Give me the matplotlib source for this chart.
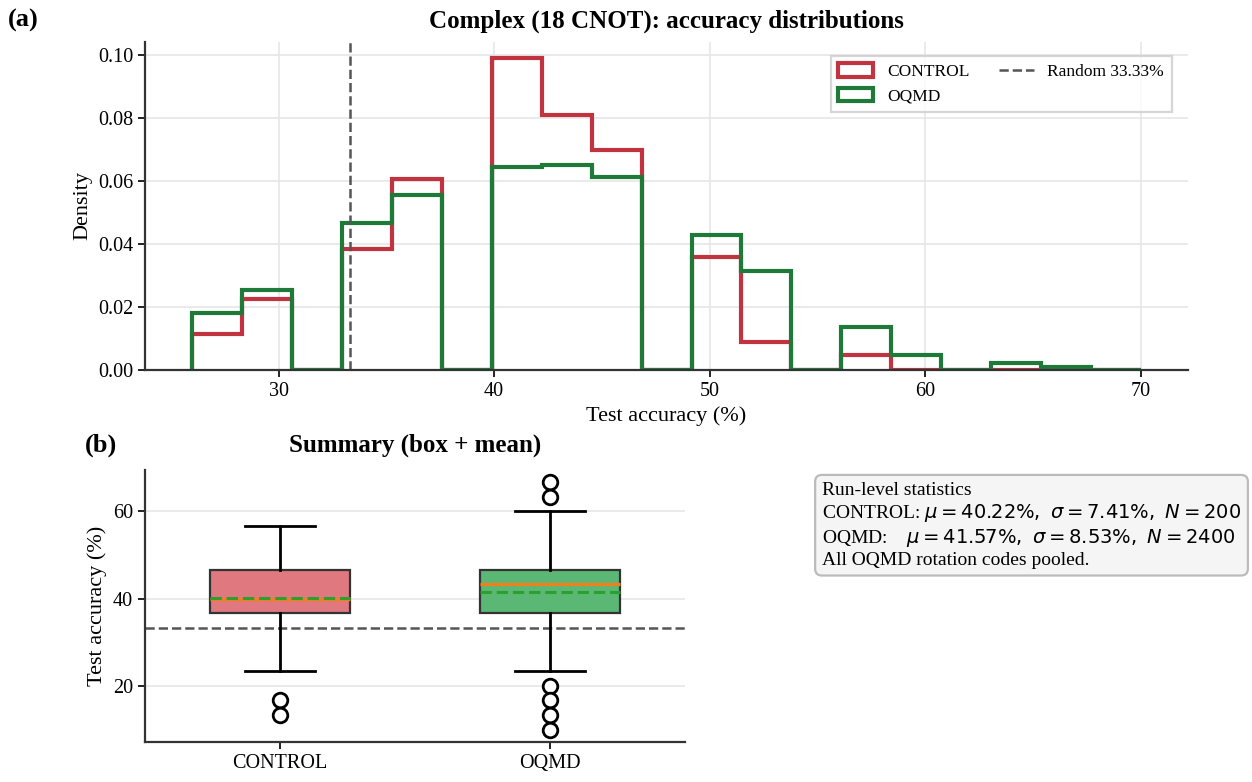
import matplotlib
matplotlib.use("Agg")
import matplotlib.pyplot as plt
import numpy as np

plt.rcParams['font.family'] = ['Liberation Serif', 'DejaVu Serif']
plt.rcParams['mathtext.fontset'] = 'dejavusans'

red = '#c1343f'
green = '#1f7a3a'
grey = '#555555'

# histogram bins (test accuracy, %) and per-bin density
bin_edges = [26.0, 28.32, 30.63, 32.95, 35.26, 37.58, 39.89, 42.21, 44.53, 46.84,
             49.16, 51.47, 53.79, 56.11, 58.42, 60.74, 63.05, 65.37, 67.68, 70.0]
control_density = [0.0113, 0.0224, 0.0, 0.0383, 0.0606, 0.0, 0.0992, 0.0810, 0.0699, 0.0,
                   0.0359, 0.0088, 0.0, 0.0046, 0.0, 0.0, 0.0, 0.0, 0.0]
oqmd_density = [0.0181, 0.0253, 0.0, 0.0466, 0.0555, 0.0, 0.0644, 0.0650, 0.0614, 0.0,
                0.0428, 0.0315, 0.0, 0.0138, 0.0049, 0.0, 0.0023, 0.0011, 0.0]

random_acc = 100 / 3

# box summary
groups = ['CONTROL', 'OQMD']
q1 = [36.67, 36.67]
q3 = [46.67, 46.67]
medians = [40.0, 43.33]
means = [40.22, 41.57]
whisker_lo = [23.33, 23.33]
whisker_hi = [56.67, 60.0]
fliers = [[16.67, 13.33], [66.67, 63.33, 20.0, 16.67, 13.33, 10.0]]
sigmas = [7.41, 8.53]
counts = [200, 2400]

fig = plt.figure(figsize=(12.52, 7.82), dpi=100)
ax1 = fig.add_axes([0.1158, 0.5269, 0.8331, 0.4194])
ax2 = fig.add_axes([0.1158, 0.0512, 0.4313, 0.3478])

for ax in (ax1, ax2):
    for s in ('top', 'right'):
        ax.spines[s].set_visible(False)
    for s in ('left', 'bottom'):
        ax.spines[s].set_color('#333333')
        ax.spines[s].set_linewidth(1.6)
    ax.tick_params(labelsize=14.5, length=5, width=1.4, color='#222222')
    ax.set_axisbelow(True)

# (a) histograms
edges = np.array(bin_edges)
ax1.hist(edges[:-1], bins=edges, weights=control_density, histtype='step',
         color=red, linewidth=3.0, label='CONTROL')
ax1.hist(edges[:-1], bins=edges, weights=oqmd_density, histtype='step',
         color=green, linewidth=3.0, label='OQMD')
ax1.axvline(random_acc, color=grey, ls='--', lw=1.8, label='Random 33.33%')
ax1.grid(True, color='#e6e6e6', lw=1.2)
ax1.set_yticks([0, 0.02, 0.04, 0.06, 0.08, 0.10])
ax1.set_xlabel('Test accuracy (%)', fontsize=16)
ax1.set_ylabel('Density', fontsize=16)
ax1.set_title('Complex (18 CNOT): accuracy distributions', fontsize=18,
              fontweight='bold', pad=10.5)
leg = ax1.legend(loc='upper right', ncol=2, fontsize=12.5, fancybox=False,
                 handlelength=2.0, handleheight=0.8, columnspacing=1.7,
                 borderpad=0.45, labelspacing=0.45, bbox_to_anchor=(0.993, 0.985))
leg.get_frame().set_edgecolor('#cccccc')
leg.get_frame().set_linewidth(1.6)

# (b) box + mean
stats = []
for i, g in enumerate(groups):
    stats.append(dict(label=g, q1=q1[i], q3=q3[i], med=medians[i], mean=means[i],
                      whislo=whisker_lo[i], whishi=whisker_hi[i], fliers=fliers[i]))
bp = ax2.bxp(stats, widths=0.52, patch_artist=True, showmeans=True, meanline=True,
             boxprops=dict(edgecolor='#333333', linewidth=1.6),
             whiskerprops=dict(color='black', linewidth=2.0),
             capprops=dict(color='black', linewidth=2.0),
             medianprops=dict(color='#ef8020', linewidth=2.4),
             meanprops=dict(color='#2ca02c', linestyle='--', linewidth=2.2),
             flierprops=dict(marker='o', markerfacecolor='white', markeredgecolor='black',
                             markersize=10.5, markeredgewidth=2.0))
for patch, c in zip(bp['boxes'], ['#e07880', '#5bb874']):
    patch.set_facecolor(c)
ax2.axhline(random_acc, color=grey, ls='--', lw=1.8, zorder=1)
ax2.grid(True, axis='y', color='#e6e6e6', lw=1.2)
ax2.set_yticks([20, 40, 60])
ax2.set_ylabel('Test accuracy (%)', fontsize=16)
ax2.set_title('Summary (box + mean)', fontsize=18, fontweight='bold', pad=13)

# run-level statistics box
lines = ['Run-level statistics']
lines.append('CONTROL: $\\mu = %.2f\\%%,\\ \\sigma = %.2f\\%%,\\ N = %d$' % (means[0], sigmas[0], counts[0]))
lines.append('OQMD:    $\\mu = %.2f\\%%,\\ \\sigma = %.2f\\%%,\\ N = %d$' % (means[1], sigmas[1], counts[1]))
lines.append('All OQMD rotation codes pooled.')
fig.text(0.6565, 0.384, '\n'.join(lines), fontsize=14, va='top', ha='left',
         linespacing=1.2,
         bbox=dict(boxstyle='round,pad=0.35', facecolor='#f5f5f5',
                   edgecolor='#bbbbbb', linewidth=1.6))

fig.text(0.006, 0.974, '(a)', fontsize=19, fontweight='bold', va='center')
fig.text(0.068, 0.43, '(b)', fontsize=19, fontweight='bold', va='center')

fig.savefig('out.png', dpi=100)
